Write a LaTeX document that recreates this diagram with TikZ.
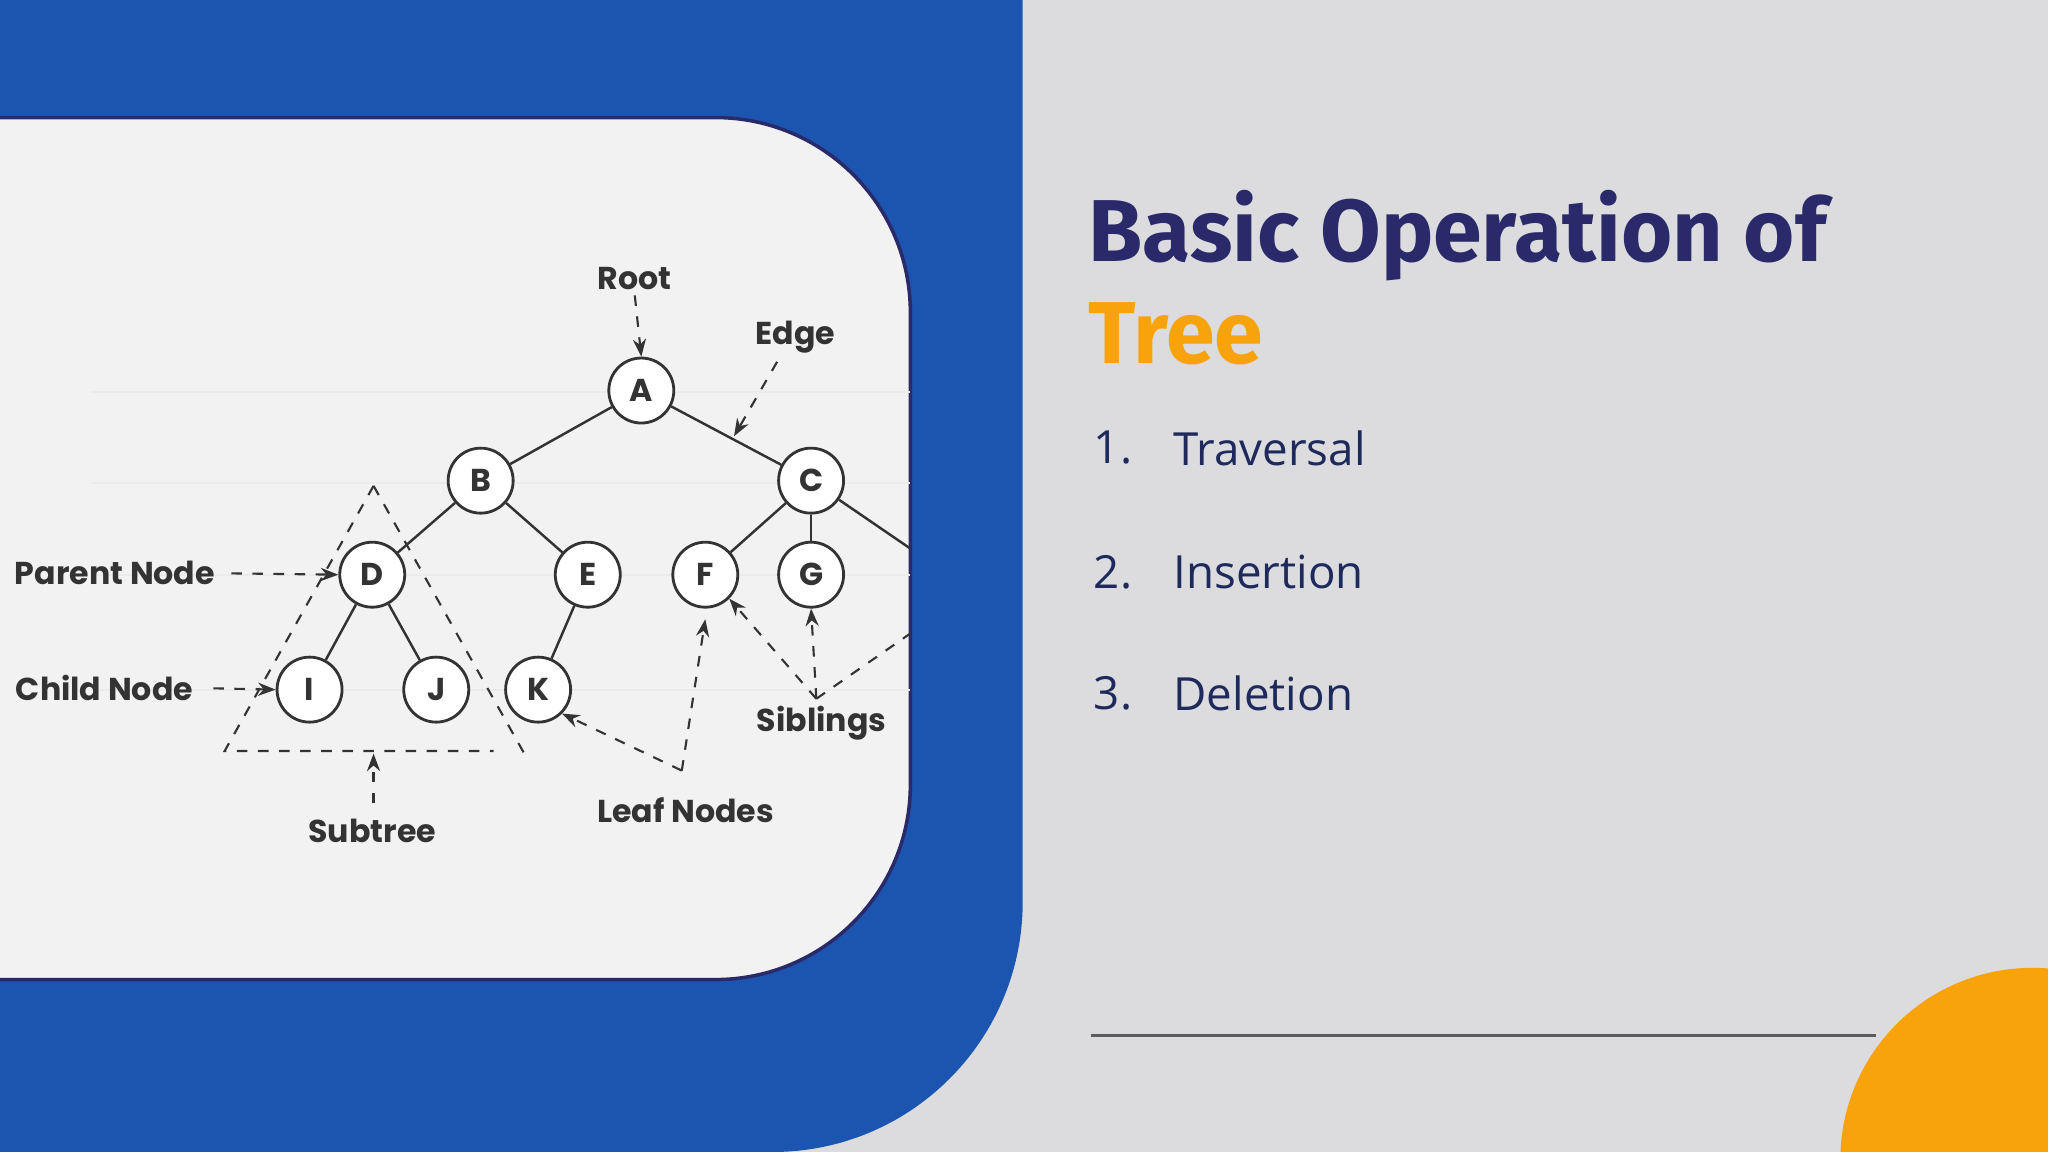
\documentclass[tikz,border=0pt]{standalone}
\usepackage{fontspec}
\newfontfamily\pop{Poppins}
\newfontfamily\titf{Fira Sans}
\newfontfamily\listf{Open Sans}
\usetikzlibrary{arrows.meta}
\definecolor{bgc}{HTML}{DCDCDE}
\definecolor{bluec}{HTML}{1C55B0}
\definecolor{cardc}{HTML}{F2F2F2}
\definecolor{navy}{HTML}{2A2A6A}
\definecolor{listc}{HTML}{1F2A5C}
\definecolor{orangec}{HTML}{F9A30C}
\definecolor{darkc}{HTML}{333333}
\tikzset{
  tn/.style={circle,draw=darkc,fill=white,line width=0.8pt,minimum size=0.65cm,inner sep=0pt,font=\pop\bfseries\fontsize{9}{10}\selectfont,text=darkc},
  lab/.style={font=\pop\bfseries\fontsize{9}{10}\selectfont,text=darkc,inner sep=0pt},
  edg/.style={draw=darkc,line width=0.7pt},
  darr/.style={draw=darkc,dashed,line width=0.6pt,-{Stealth[length=5pt]}},
  dl/.style={draw=darkc,dashed,line width=0.6pt},
  guide/.style={draw=black!8,line width=0.6pt},
  item/.style={font=\listf\fontsize{13}{15}\selectfont,text=listc,anchor=west,inner sep=0pt}
}
\begin{document}
\begin{tikzpicture}[x=0.013061cm,y=-0.013061cm]
\useasboundingbox (0,0) rectangle (1568,882);
\fill[bgc] (0,0) rectangle (1568,882);
\fill[bluec] (0,0) -- (783,0) [rounded corners=2.5cm] -- (783,882) [sharp corners] -- (0,882) -- cycle;
\draw[fill=cardc,draw=navy,line width=1pt] (-5,90) [rounded corners=1.95cm] -- (697,90) -- (697,750) [sharp corners] -- (-5,750) -- cycle;
\fill[orangec] (1556,888) circle (1.92cm);
\draw[darkc!80,line width=0.8pt] (835,793) -- (1436,793);
% title
\node[anchor=base west,inner sep=0pt,text=navy,font=\titf\bfseries\fontsize{25}{28}\selectfont] (t1) at (833,200) {Basic Operation of};
\node[anchor=base west,inner sep=0pt,text=orangec,font=\titf\bfseries\fontsize{25}{28}\selectfont] (t2) at (833,278) {Tree};
\node[item] (n1) at (837,343) {1.};
\node[item] (i1) at (898,343) {Traversal};
\node[item] (n2) at (837,438) {2.};
\node[item] (i2) at (898,438) {Insertion};
\node[item] (n3) at (837,531) {3.};
\node[item] (i3) at (898,531) {Deletion};
% guides
\foreach \yy in {300,370,440,528} \draw[guide] (70,\yy) -- (697,\yy);
% nodes
\node[tn] (A) at (491,299) {A};
\node[tn] (B) at (368,368) {B};
\node[tn] (C) at (621,368) {C};
\node[tn] (D) at (285,440) {D};
\node[tn] (E) at (450,440) {E};
\node[tn] (F) at (540,440) {F};
\node[tn] (G) at (621,440) {G};
\node[tn] (I) at (237,528) {I};
\node[tn] (J) at (334,528) {J};
\node[tn] (K) at (412,528) {K};
\coordinate (Cr) at (697,420);
\foreach \a/\b in {A/B,A/C,B/D,B/E,D/I,D/J,E/K,C/F,C/G,C/Cr} \path[edg] (\a) -- (\b);
% labels
\node[lab] (root) at (486,213) {Root};
\node[lab] (edge) at (609,258) {Edge};
\node[lab] (par) at (88,439) {Parent Node};
\node[lab] (chi) at (80,527) {Child Node};
\node[lab] (sub) at (285,636) {Subtree};
\node[lab] (leaf) at (525,620) {Leaf Nodes};
\node[lab] (sib) at (629,554) {Siblings};
% subtree triangle
\coordinate (ta) at (286,372);
\coordinate (tl) at (172,575);
\coordinate (tr) at (378,575);
\coordinate (tr2) at (402,578);
\coordinate (tb) at (286,577);
\path[dl] (ta) -- (tl) -- (tr);
\path[dl] (ta) -- (tr2);
% arrows
\path[darr] (root.south) ++(0,4) -- (A.north);
\coordinate (e0) at (595,277); \coordinate (e1) at (562,334);
\path[darr] (e0) -- (e1);
\path[darr] (par.east) ++(12,0) -- (D.west);
\path[darr] (chi.east) ++(15,0) -- (I.west);
\coordinate (s0) at (286,615);
\path[darr] (s0) -- (tb);
\coordinate (l0) at (522,590);
\path[darr] (l0) -- (K.south east);
\path[darr] (l0) -- ([yshift=-3pt]F.south);
\coordinate (g0) at (625,535); \coordinate (g3) at (697,485);
\path[darr] (g0) -- (F.south east);
\path[darr] (g0) -- (G.south);
\path[dl] (g0) -- (g3);
\end{tikzpicture}
\end{document}
